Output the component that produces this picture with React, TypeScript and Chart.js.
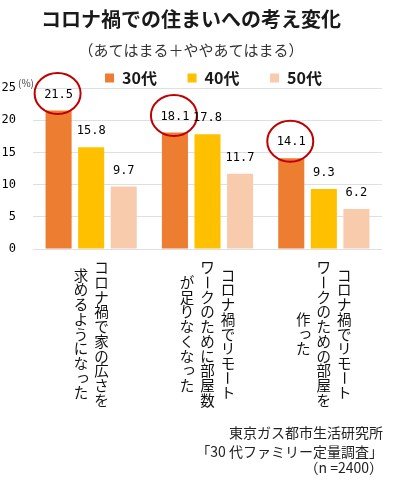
import React, { useEffect, useRef } from "react";
import { Chart, registerables } from "chart.js";

Chart.register(...registerables);

const titleText = "コロナ禍での住まいへの考え変化";
const subtitleText = "（あてはまる＋ややあてはまる）";
const categories: string[][] = [
  ["コロナ禍で家の広さを", "求めるようになった"],
  ["コロナ禍でリモート", "ワークのために部屋数", "が足りなくなった"],
  ["コロナ禍でリモート", "ワークのための部屋を", "作った"],
];
const seriesNames = ["30代", "40代", "50代"];
const values30 = [21.5, 18.1, 14.1];
const values40 = [15.8, 17.8, 9.3];
const values50 = [9.7, 11.7, 6.2];
const seriesColors = ["#ED7D31", "#FFC000", "#F8CBAD"];
const yMin = 0;
const yMax = 25;
const yStep = 5;
const unitLabel = "(%)";
const sourceLines = ["東京ガス都市生活研究所", "「30 代ファミリー定量調査」", "（n =2400）"];

const JP = "'Noto Sans CJK JP', 'Noto Sans', sans-serif";
const MONO = "'DejaVu Sans Mono', monospace";

const SMALL_KANA = "ぁぃぅぇぉっゃゅょゎァィゥェォッャュョヮ";
const ROTATE_CHARS = "ー－〜";

const legendShiftPlugin = {
  id: "legendShift",
  afterLayout(chart: any) {
    if (chart.legend) {
      chart.legend.left += 6;
      chart.legend.right += 6;
    }
  },
};

const valueLabelPlugin = {
  id: "valueLabels",
  afterDatasetsDraw(chart: any) {
    const ctx = chart.ctx;
    ctx.save();
    ctx.font = `12px ${MONO}`;
    ctx.fillStyle = "#000";
    ctx.textAlign = "center";
    ctx.textBaseline = "middle";
    chart.data.datasets.forEach((ds: any, di: number) => {
      const meta = chart.getDatasetMeta(di);
      meta.data.forEach((bar: any, i: number) => {
        const v = ds.data[i] as number;
        const x = bar.x;
        const y = bar.y - 16;
        ctx.fillText(v.toFixed(1), x, y);
        if (di === 0) {
          ctx.beginPath();
          ctx.ellipse(x - 1, y - 1, 23, 20.5, 0, 0, Math.PI * 2);
          ctx.strokeStyle = "#C00000";
          ctx.lineWidth = 2;
          ctx.stroke();
        }
      });
    });
    ctx.restore();
  },
};

const textPlugin = {
  id: "extraText",
  afterDraw(chart: any) {
    const ctx = chart.ctx;
    const area = chart.chartArea;
    const xScale = chart.scales.x;
    ctx.save();
    // unit label
    ctx.font = `10px ${JP}`;
    ctx.fillStyle = "#444";
    ctx.textAlign = "left";
    ctx.textBaseline = "middle";
    ctx.fillText(unitLabel, area.left - 15, area.top - 5);

    // vertical category labels
    const pitch = 14.7;
    const colGap = 20.5;
    const centerY = area.bottom + 85;
    ctx.font = `14.5px ${JP}`;
    ctx.fillStyle = "#111";
    ctx.textAlign = "center";
    ctx.textBaseline = "middle";
    categories.forEach((cols, i) => {
      const cx = xScale.getPixelForValue(i);
      const n = cols.length;
      cols.forEach((col, j) => {
        const x = cx + ((n - 1) / 2 - j) * colGap;
        const chars = Array.from(col);
        const top = centerY - (chars.length * pitch) / 2;
        chars.forEach((ch, k) => {
          const y = top + k * pitch + pitch / 2;
          if (ROTATE_CHARS.includes(ch)) {
            ctx.save();
            ctx.translate(x, y);
            ctx.rotate(Math.PI / 2);
            ctx.fillText(ch, 0, 0);
            ctx.restore();
          } else if (SMALL_KANA.includes(ch)) {
            ctx.fillText(ch, x + 2, y - 2);
          } else {
            ctx.fillText(ch, x, y);
          }
        });
      });
    });

    // source note
    ctx.font = `14px ${JP}`;
    ctx.fillStyle = "#222";
    ctx.textAlign = "right";
    ctx.textBaseline = "middle";
    const rightX = chart.width - 14;
    const ys = [chart.height - 47, chart.height - 28, chart.height - 12];
    sourceLines.forEach((t, i) => ctx.fillText(t, rightX, ys[i]));
    ctx.restore();
  },
};

export default function App() {
  const ref = useRef<HTMLCanvasElement>(null);
  useEffect(() => {
    document.body.style.margin = "0";
    const valueSets = [values30, values40, values50];
    const chart = new Chart(ref.current as HTMLCanvasElement, {
      type: "bar",
      data: {
        labels: categories.map((c) => c.join("")),
        datasets: seriesNames.map((name, i) => ({
          label: name,
          data: valueSets[i],
          backgroundColor: seriesColors[i],
          borderWidth: 0,
          categoryPercentage: 0.84,
          barPercentage: 0.8,
        })),
      },
      options: {
        animation: false,
        responsive: false,
        devicePixelRatio: 1,
        layout: { padding: { left: 0, right: 15, top: 0, bottom: 231 } },
        plugins: {
          title: {
            display: true,
            text: titleText,
            color: "#1a1a1a",
            font: { family: JP, size: 20, weight: "bold" },
            padding: { top: 7, bottom: 4 },
          },
          subtitle: {
            display: true,
            text: subtitleText,
            color: "#333",
            font: { family: JP, size: 15 },
            padding: { top: 6, bottom: 0 },
          },
          legend: {
            display: true,
            fullSize: false,
            maxHeight: 29,
            labels: {
              boxWidth: 9,
              boxHeight: 9,
              padding: 11,
              color: "#1a1a1a",
              font: { family: JP, size: 16, weight: "bold" },
              generateLabels: (chart: any) => {
                const items = Chart.defaults.plugins.legend.labels.generateLabels(chart);
                return items.map((it: any, i: number) => ({
                  ...it,
                  text: i < items.length - 1 ? it.text + "\u3000 " : it.text,
                  lineWidth: 0,
                }));
              },
            },
          },
          tooltip: { enabled: false },
        },
        scales: {
          x: { display: false },
          y: {
            min: yMin,
            max: yMax,
            ticks: {
              stepSize: yStep,
              padding: 17,
              color: "#000",
              font: { family: MONO, size: 12 },
            },
            grid: { color: "#DCDFE3", drawTicks: false },
            border: { display: false },
            afterFit: (s: any) => {
              s.width = 33;
            },
          },
        },
      },
      plugins: [legendShiftPlugin, valueLabelPlugin, textPlugin],
    } as any);
    return () => chart.destroy();
  }, []);
  return (
    <div style={{ width: 397, height: 480 }}>
      <canvas ref={ref} width={397} height={480} style={{ display: "block" }} />
    </div>
  );
}
